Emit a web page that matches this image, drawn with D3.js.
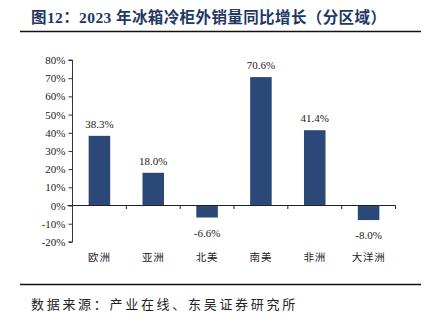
<!DOCTYPE html>
<html><head><meta charset="utf-8">
<script src="https://cdn.jsdelivr.net/npm/d3@7"></script>
<style>body{margin:0;background:#fff;} svg{display:block;}</style>
</head><body>
<script>
const categories = ["欧洲","亚洲","北美","南美","非洲","大洋洲"];
const values = [38.3, 18.0, -6.6, 70.6, 41.4, -8.0];
const yTicks = [80,70,60,50,40,30,20,10,0,-10,-20];
const title = "图12：2023 年冰箱冷柜外销量同比增长（分区域）";
const source = "数据来源：产业在线、东吴证券研究所";

const W=426,H=330;
const svg=d3.select("body").append("svg").attr("width",W).attr("height",H);
const navy="#1f3864";
svg.append("text").attr("x",31).attr("y",23).text(title)
  .attr("font-family","'Liberation Serif', 'Noto Sans CJK SC', serif").attr("font-weight","bold")
  .attr("font-size",15.5).attr("letter-spacing",0.4).attr("fill",navy);
svg.append("line").attr("x1",20).attr("x2",421).attr("y1",31.5).attr("y2",31.5).attr("stroke","#111").attr("stroke-width",1.5);
svg.append("line").attr("x1",20).attr("x2",421).attr("y1",284.5).attr("y2",284.5).attr("stroke","#111").attr("stroke-width",1.5);
svg.append("text").attr("x",31).attr("y",309).text(source)
  .attr("font-family","'Noto Sans CJK SC', sans-serif").attr("font-size",13).attr("letter-spacing",2.7).attr("fill","#222");

const x0=72.5, x1=395.5;
const y=d3.scaleLinear().domain([-20,80]).range([241.9,60]);
const x=d3.scaleBand().domain(categories).range([x0,x1]).paddingInner(0.6).paddingOuter(0.3);

const g=svg.append("g");
const ya=d3.axisLeft(y).tickValues(yTicks).tickSize(4).tickFormat(d=>d+"%");
const yg=g.append("g").attr("transform",`translate(${x0},0)`).call(ya);
yg.select(".domain").attr("stroke","#333").attr("d",`M-4,${y(80)}H0V${y(-20)}H-4`);
yg.selectAll(".tick line").attr("stroke","#333");
yg.selectAll(".tick text").attr("font-family","'Liberation Serif', serif").attr("font-size",11).attr("fill","#222").attr("x",-7);

g.selectAll("rect.bar").data(values).enter().append("rect")
  .attr("x",(d,i)=>x(categories[i])).attr("width",x.bandwidth())
  .attr("y",d=>y(Math.max(0,d))).attr("height",d=>Math.abs(y(d)-y(0)))
  .attr("fill","#2b4878");

const xb=d3.scaleLinear().domain([0,categories.length]).range([x0,x1]);
g.append("line").attr("x1",x0-5).attr("x2",x1).attr("y1",y(0)).attr("y2",y(0)).attr("stroke","#222").attr("stroke-width",1.2);
g.selectAll("line.xt").data(d3.range(1,categories.length+1)).enter().append("line")
  .attr("x1",d=>xb(d)).attr("x2",d=>xb(d)).attr("y1",y(0)).attr("y2",y(0)+3.5).attr("stroke","#222");

g.selectAll("text.vl").data(values).enter().append("text")
  .attr("x",(d,i)=>x(categories[i])+x.bandwidth()/2)
  .attr("y",d=>d>=0? y(d)-8 : y(d)+19)
  .attr("text-anchor","middle").attr("font-family","'Liberation Serif', serif").attr("font-size",11).attr("fill","#222")
  .text(d=>d.toFixed(1)+"%");

g.selectAll("text.cl").data(categories).enter().append("text")
  .attr("x",d=>x(d)+x.bandwidth()/2).attr("y",261)
  .attr("text-anchor","middle").attr("font-family","'Noto Sans CJK SC', sans-serif").attr("font-size",10.5).attr("letter-spacing",0.8).attr("fill","#222")
  .text(d=>d);
</script>
</body></html>
